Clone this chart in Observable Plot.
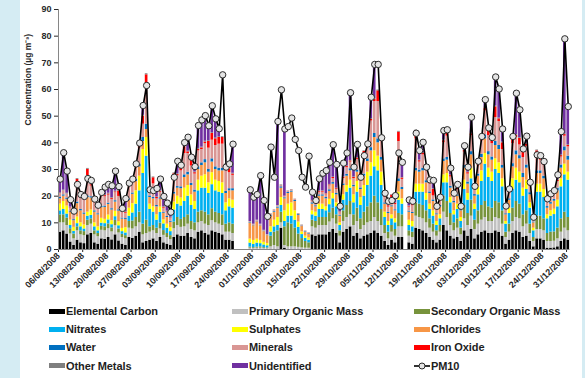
<!DOCTYPE html>
<html>
<head>
<meta charset="utf-8">
<script src="https://cdn.jsdelivr.net/npm/d3@7"></script>
<script src="https://cdn.jsdelivr.net/npm/@observablehq/plot@0.6"></script>
<style>
  html, body { margin: 0; padding: 0; }
  body { width: 585px; height: 378px; background: #d5ecf3; overflow: hidden; position: relative;
         font-family: "Liberation Sans", Arial, sans-serif; }
  #panel { position: absolute; left: 20px; top: 0; width: 562px; height: 378px; background: #fff; }
  #chart { position: absolute; left: 0; top: 0; }
  .item { position: absolute; height: 14px; line-height: 14px; font-size: 11px; font-weight: bold;
          color: #1e1e1e; white-space: nowrap; }
  .sw { position: absolute; left: 0; top: 4.5px; width: 16px; height: 5px; }
  .lab { position: absolute; left: 17px; top: 0; letter-spacing: -0.1px; }
</style>
</head>
<body>
<div id="panel"><div id="chart"></div><div id="legend"></div></div>
<script>
// Daily PM10 composition, 06/08/2008 – 31/12/2008 (µg m-3); null = no sample
const firstDay = "2008-08-06";
const dayCount = 148;

const seriesNames = ["Elemental Carbon", "Primary Organic Mass", "Secondary Organic Mass",
  "Nitrates", "Sulphates", "Chlorides", "Water", "Minerals", "Iron Oxide", "Other Metals", "Unidentified"];
const seriesColors = ["#000000", "#c0c0c0", "#77933c", "#00b0f0", "#ffff00", "#f79646",
  "#0070c0", "#d99694", "#ff0000", "#7f7f7f", "#7030a0"];

const tickLabels = ["06/08/2008", "13/08/2008", "20/08/2008", "27/08/2008", "03/09/2008", "10/09/2008",
  "17/09/2008", "24/09/2008", "01/10/2008", "08/10/2008", "15/10/2008", "22/10/2008", "29/10/2008",
  "05/11/2008", "12/11/2008", "19/11/2008", "26/11/2008", "03/12/2008", "10/12/2008", "17/12/2008",
  "24/12/2008", "31/12/2008"];
const yTicks = [0, 10, 20, 30, 40, 50, 60, 70, 80, 90];
const yTitle = "Concentration (µg m⁻³)";

const pm10 = [
  26.4, 36.3, 29.4, 18.7, 14.4, 24.4, 20.6, 19.9, 26.6, 25.9,
  18.9, 16.6, 21.4, 23.4, 24.4, 23.9, 29.4, 23.6, 15.4, 19.1,
  24.9, 26.4, 32.1, 39.9, 54.0, 61.5, 22.4, 22.1, 22.9, 26.4,
  19.9, 17.4, 14.0, 27.1, 33.1, 31.6, 40.1, 42.1, 34.6, 31.1,
  46.5, 48.6, 50.2, 46.4, 53.9, 49.0, 45.3, 65.5, 30.9, 32.1,
  39.5, null, null, null, null, 22.4, 19.6, 20.6, 27.7, 18.4,
  12.4, 38.4, 27.1, 48.0, 59.9, 45.2, 46.1, 49.3, 41.3, 37.1,
  27.1, 23.4, 35.0, 21.5, 18.4, 26.5, 28.6, 29.6, 32.7, 39.3,
  31.9, 16.2, 32.4, 36.2, 58.8, 30.9, 39.4, 27.1, 35.2, 39.6,
  57.1, 69.4, 69.4, 41.9, 21.1, 18.1, 18.4, 20.2, 36.2, 32.7,
  null, 18.6, 18.1, 43.6, 37.1, 40.2, 30.9, 26.1, 25.9, 16.2,
  19.6, 44.6, 44.9, 30.5, 21.1, 24.4, 16.2, 38.9, 30.9, 49.6,
  23.7, 33.1, 42.4, 56.2, 45.6, 42.0, 64.7, 60.2, 45.2, 16.3,
  22.7, 42.4, 58.6, 52.4, 37.7, 42.5, 25.2, 12.1, 35.5, 35.2,
  33.0, 19.0, 20.9, 22.1, 28.0, 44.2, 79.0, 53.6];

const elementalCarbon = [
  6.5, 7, 5.8, 2.8, 1.5, 3.5, 2.5, 2.2, 5.5, 6,
  2.5, 2, 4, 3.8, 4.5, 3.6, 5.5, 3.2, 2, 1.5,
  4.5, 4.2, 5, 6.5, 2.5, 3, 3.5, 4, 3, 4.5,
  2.5, 2, 1.5, 4.5, 5.5, 5, 5, 6, 4.5, 4,
  6.5, 7, 6, 5.5, 7, 6.5, 6, 5.5, 3.5, 3.5,
  3, null, null, null, null, 0, 0, 0, 0, 0,
  0, 0, 0, 0, 8, 0.5, 0, 0, 0, 0,
  0, 0, 0, 5.5, 5, 5.5, 5.5, 5.5, 6.5, 7.5,
  6, 2.5, 6.5, 7.5, 8.5, 5, 6, 4, 5, 5.5,
  6, 7, 6, 5, 3, 1.5, 3.5, 2.5, 4.5, 4.5,
  null, 2.5, 2, 8, 7.5, 7, 6, 4.5, 3.5, 2.5,
  3.5, 9, 7, 5, 4, 4.5, 3, 7, 5, 7.5,
  4, 5.5, 6.5, 7, 6, 6, 7, 6.5, 5, 2,
  3.5, 6, 7, 6.5, 4.5, 5, 3, 1, 4, 4,
  3.5, 0.5, 0.5, 0.6, 1, 3, 4, 3.5];

const primaryOrganic = [
  3.5, 3, 3.2, 3, 2.5, 3.5, 3, 3, 3.5, 3.5,
  3, 2.8, 3.2, 3.2, 3.3, 3, 3.4, 3, 2.5, 2.5,
  3.5, 3.5, 3.5, 3.5, 3, 3, 3, 3, 3, 3.2,
  2.8, 2.5, 2.2, 3.3, 3.5, 3.3, 3.5, 3.5, 3, 3,
  3.5, 3.5, 3.5, 3.5, 3.8, 3.5, 3.5, 3.5, 3, 3,
  3, null, null, null, null, 0.5, 0.4, 0.5, 0.5, 0.4,
  0.3, 1, 1.5, 1, 2, 1, 1, 1, 1, 0.8,
  0.6, 0.5, 0.5, 3, 3, 3.5, 3.5, 3.5, 3.8, 4,
  3.5, 2.5, 4, 4.5, 4.5, 4, 4.5, 3.5, 4, 4.5,
  4.5, 5, 4.5, 4, 3, 2.5, 3, 2.5, 4, 4,
  null, 2.5, 2.5, 4.5, 4.5, 4.5, 4, 3.5, 3, 2.5,
  3, 5, 5, 4, 3, 3.5, 2.5, 4.5, 4, 5,
  3.5, 4, 4.5, 5, 4.5, 4.5, 5, 5, 4.5, 2.5,
  3, 4.5, 5, 5, 4, 4.5, 3, 2, 3.5, 3.5,
  3.5, 2.5, 2.5, 2.5, 3, 3.5, 4, 3.5];

const secondaryOrganic = [
  3, 3, 2.8, 2, 1.8, 1.5, 1.5, 1.5, 2, 2,
  1.5, 1.2, 1.5, 1.5, 1.8, 1.5, 2, 1.5, 1.2, 1.2,
  2.5, 3, 3.5, 4, 4, 5, 2, 2, 2, 2.2,
  1.8, 1.5, 1.5, 2.5, 3, 3, 3.5, 3.5, 3, 3,
  4, 4, 4.5, 4, 4.5, 4, 4, 4, 3, 3.5,
  3.5, null, null, null, null, 0.4, 0.3, 0.4, 0.5, 0.3,
  0.3, 4, 5, 6, 4, 7, 9, 8.5, 7, 5,
  3.5, 2.5, 2, 2.5, 2.5, 3, 3, 3, 3.5, 4,
  3.5, 2, 4, 4.5, 5, 4, 5, 4, 5, 6,
  7, 8, 7, 6, 3, 2.5, 2.5, 2.5, 5, 4.5,
  null, 2, 2, 5, 5, 5, 4.5, 3.5, 3, 2,
  2.5, 6, 6, 4.5, 3, 3.5, 2.5, 5, 4.5, 6,
  3.5, 5, 5.5, 6, 5.5, 5, 6, 6, 5, 2,
  3, 5, 6, 5.5, 4.5, 5, 3.5, 1.5, 5, 5,
  4.5, 3, 3.5, 3.5, 4, 5, 6, 5];

const nitrates = [
  1.5, 2, 1.5, 1.2, 1, 1.2, 1.5, 1, 1.5, 1.3,
  1.5, 1, 1.2, 1.2, 1.5, 1.2, 1.4, 1.2, 1, 1,
  2, 3, 5, 8, 19, 24, 6.5, 5, 3, 4,
  2.5, 2, 1.5, 4.5, 5, 5, 6, 7, 6, 5,
  8, 8.5, 9, 8, 9, 8, 8, 8, 5, 6,
  6, null, null, null, null, 1.5, 1.2, 1.5, 1.2, 1,
  0.8, 1.5, 2, 2, 2.5, 2, 2.5, 3, 3, 2.5,
  1.5, 1.2, 1, 2, 2, 3, 3, 2.5, 3, 3.5,
  3, 2, 4, 5, 5, 4.5, 6, 5, 6, 8,
  10, 11, 12, 9, 3, 2.5, 2.5, 2.5, 5, 4,
  null, 2, 2, 4, 4.5, 5, 4, 3.5, 3, 2,
  2.5, 5, 7, 4, 3, 3.5, 2.5, 6, 5, 8,
  4, 6, 9, 14, 11, 10, 12, 11, 9, 3,
  4, 7, 8, 8, 7, 8, 6, 2.5, 9, 9,
  8, 5.5, 6, 6.5, 8, 12, 14, 14];

const sulphates = [
  2.5, 3, 3, 2, 1.5, 2.5, 1.5, 1.5, 1.5, 2,
  1.5, 1.5, 1.8, 1.6, 1.8, 1.5, 2, 1.5, 1.2, 2,
  3, 3.5, 5, 5.5, 9, 7, 2, 2, 2, 2,
  1.5, 1.5, 1.5, 3, 3, 3, 5, 4, 4, 3,
  4, 4.5, 5, 4, 4.5, 4, 4, 4, 3, 3,
  3, null, null, null, null, 1.5, 1.5, 1.5, 1.2, 1,
  0.8, 2, 2.5, 3, 3, 4, 4.5, 5, 3.5, 2,
  1, 0.8, 0.8, 1.5, 1.5, 2, 2, 1.5, 2, 2,
  1.5, 1, 2, 2.5, 3, 3, 4, 3, 4, 5,
  5, 6, 5.5, 5, 2, 1.5, 1.5, 1.5, 3, 2,
  null, 2, 2, 3, 3, 3, 2.5, 2, 2, 1.5,
  1.5, 3, 3.5, 2, 1.5, 2, 1.5, 3.5, 2.5, 4,
  2, 3, 4, 4, 3.5, 3.5, 4, 4, 3, 1,
  2, 4, 4.5, 4, 3, 3.5, 2, 1, 3, 3,
  3, 1.5, 2, 2, 2.5, 3, 4, 3];

const chlorides = [
  2, 2, 2.5, 3, 2.5, 5, 4.5, 4, 5.5, 4.5,
  4, 4.5, 4, 4.5, 4, 4, 3.5, 4, 3.5, 3,
  3, 3.5, 3.5, 3.5, 3, 3, 2.5, 3, 3, 3,
  2.5, 2.5, 2, 3, 3, 3.5, 4, 4, 3.5, 3.5,
  4, 4, 4.5, 4, 4, 4, 4, 4.5, 3.5, 3,
  3.5, null, null, null, null, 6, 5.5, 6.5, 5.5, 4,
  3, 4, 3, 3.5, 3.5, 4.5, 4, 4, 3.5, 2.5,
  2, 1.5, 1.5, 2.5, 2, 3, 3, 3, 3, 3.5,
  3, 2.5, 3.5, 3.5, 3.5, 3, 3.5, 3, 3.5, 4,
  4.5, 5, 5, 4.5, 3, 3, 3, 3, 4, 3.5,
  null, 3, 3, 5, 4.5, 5, 4, 4, 3.5, 2.5,
  3, 5, 5, 3.5, 3, 3, 2.5, 4.5, 3.5, 5,
  3, 4, 5, 5.5, 5, 4.5, 5, 5, 4, 2.5,
  3, 4.5, 5, 5, 4, 4.5, 3, 2, 4, 4,
  4, 2.5, 2.5, 3, 3.5, 4, 5, 4.5];

const water = [
  0.5, 0.5, 0.5, 0.4, 0.4, 0.6, 0.5, 0.5, 0.6, 0.5,
  0.5, 0.4, 0.5, 0.5, 0.5, 0.5, 0.5, 0.5, 0.4, 0.4,
  0.5, 0.5, 0.8, 1, 1.5, 2, 0.6, 0.6, 0.5, 0.5,
  0.4, 0.4, 0.4, 0.6, 0.6, 0.7, 1, 1, 0.8, 0.8,
  1, 1, 1.2, 1, 1.2, 1, 1, 1, 0.8, 0.8,
  0.8, null, null, null, null, 0.2, 0.2, 0.2, 0.2, 0.2,
  0.1, 0.3, 0.3, 0.4, 0.5, 0.4, 0.4, 0.4, 0.4, 0.3,
  0.2, 0.2, 0.2, 0.5, 0.4, 0.5, 0.5, 0.5, 0.6, 0.6,
  0.5, 0.3, 0.6, 0.7, 0.8, 0.6, 0.8, 0.6, 0.8, 1,
  1.2, 1.5, 1.5, 1, 0.5, 0.4, 0.4, 0.4, 1, 0.8,
  null, 0.4, 0.4, 1, 0.8, 1, 0.8, 0.6, 0.6, 0.4,
  0.5, 1, 1, 0.7, 0.5, 0.5, 0.4, 1, 0.8, 1.2,
  0.6, 0.8, 1.2, 1.5, 1.2, 1.2, 1.5, 1.5, 1, 0.4,
  0.5, 1.2, 1.5, 1.2, 1.5, 1.2, 0.8, 0.3, 1, 1,
  1, 0.6, 0.6, 0.7, 1, 1.2, 1.5, 1.5];

const minerals = [
  1.5, 1.5, 1.5, 1, 2, 6.5, 5.5, 5, 7.5, 4,
  3.5, 2.5, 4, 3.5, 3, 3.5, 3, 5, 2.5, 2,
  5, 4, 5, 6, 5, 14, 2, 5, 2.5, 2,
  1.5, 1.5, 1, 5, 4, 6, 8, 7, 6.5, 6,
  6, 5, 6, 8, 7, 8, 9, 9, 8, 6,
  5, null, null, null, null, 0.3, 0.3, 0.3, 0.3, 0.2,
  0.2, 0.5, 0.5, 0.5, 0.5, 0.5, 0.5, 0.5, 0.4, 0.3,
  0.3, 0.2, 0.2, 0.5, 0.5, 1, 1, 1, 1.5, 1.5,
  1.5, 1, 2, 2.5, 2.5, 2.5, 4, 4, 6, 5,
  10, 12, 14, 6, 2, 2, 2.5, 2, 14, 3,
  null, 1.5, 2.5, 11, 3, 5, 4, 3, 1.5, 1.5,
  2, 6, 8, 3.5, 2, 2, 1, 5, 3, 6,
  2, 3, 5, 9, 6, 5, 9, 9, 6, 1.5,
  2, 7.5, 5, 4, 6, 7, 2.5, 1, 5, 4,
  4, 2, 2, 2, 2.5, 3, 4, 3.5];

const ironOxide = [
  0, 0, 0, 0.2, 0.5, 2, 0.5, 0.4, 2.5, 0.5,
  0.4, 0.4, 1.8, 0.4, 0.4, 0.4, 0.3, 2, 1.2, 0.3,
  1.5, 0.4, 0.5, 0.6, 3, 4.5, 0.3, 2.3, 0.5, 0.3,
  0.3, 0.2, 0.2, 2, 0.5, 2.5, 2.5, 0.6, 2.5, 0.5,
  0.6, 0.6, 0.6, 2.5, 2.5, 2.5, 2.5, 2.5, 2, 1.5,
  0.5, null, null, null, null, 0, 0, 0, 0, 0,
  0, 0, 0, 0, 0, 0, 0, 0, 0, 0,
  0, 0, 0, 0.2, 0.2, 0.3, 0.3, 0.3, 0.3, 0.4,
  0.3, 0.2, 0.4, 0.4, 0.4, 0.4, 0.5, 1.5, 2.5, 0.5,
  0.6, 0.8, 4, 0.6, 0.4, 0.5, 1.5, 0.4, 3.5, 0.5,
  null, 0.3, 2, 3, 0.5, 0.6, 0.5, 0.5, 2.5, 0.4,
  0.5, 0.8, 3, 0.5, 1.5, 0.4, 0.3, 0.6, 0.5, 0.7,
  0.4, 0.5, 0.6, 1, 2.5, 1, 4, 1, 2.5, 0.3,
  0.4, 3, 0.8, 2.5, 2, 0.8, 0.5, 0.3, 2.5, 0.6,
  1.5, 0.4, 1.5, 0.4, 0.4, 0.5, 0.6, 0.5];

const otherMetals = [
  0.3, 0.3, 0.3, 0.3, 0.3, 0.3, 0.3, 0.3, 0.3, 0.3,
  0.3, 0.3, 0.3, 0.3, 0.3, 0.3, 0.3, 0.3, 0.3, 0.3,
  0.3, 0.3, 0.3, 0.3, 0.3, 0.4, 0.3, 0.3, 0.3, 0.3,
  0.3, 0.3, 0.3, 0.3, 0.3, 0.3, 0.3, 0.3, 0.3, 0.3,
  0.3, 0.3, 0.3, 0.3, 0.3, 0.3, 0.3, 0.3, 0.3, 0.3,
  0.3, null, null, null, null, 0.1, 0.1, 0.1, 0.1, 0.1,
  0.1, 0.1, 0.1, 0.1, 0.2, 0.1, 0.1, 0.1, 0.1, 0.1,
  0.1, 0.1, 0.1, 0.2, 0.2, 0.2, 0.2, 0.2, 0.2, 0.2,
  0.2, 0.2, 0.2, 0.2, 0.2, 0.2, 0.2, 0.2, 0.2, 0.2,
  0.3, 0.3, 0.3, 0.2, 0.2, 0.2, 0.2, 0.2, 0.3, 0.2,
  null, 0.2, 0.2, 0.3, 0.2, 0.2, 0.2, 0.2, 0.2, 0.2,
  0.2, 0.3, 0.3, 0.2, 0.2, 0.2, 0.2, 0.3, 0.2, 0.3,
  0.2, 0.2, 0.3, 0.3, 0.3, 0.3, 0.3, 0.3, 0.3, 0.2,
  0.2, 0.3, 0.3, 0.3, 0.3, 0.3, 0.2, 0.2, 0.3, 0.3,
  0.3, 0.2, 0.2, 0.2, 0.2, 0.3, 0.3, 0.3];

const unidentified = [
  5.1, 14.0, 8.3, 2.8, 0.4, 0, 0, 0.5, 0, 1.3,
  0.2, 0, 0, 2.9, 3.3, 4.4, 7.5, 1.4, 0, 4.9,
  0, 0.5, 0, 1.0, 3.7, 0, 0, 0, 3.1, 4.4,
  3.8, 3.0, 1.9, 0, 4.7, 0, 1.3, 5.2, 0.5, 2.0,
  8.6, 10.2, 9.6, 5.6, 10.1, 7.2, 3.0, 0, 0, 1.5,
  10.9, null, null, null, null, 11.9, 10.1, 9.6, 18.2, 11.2,
  6.8, 0, 0, 31.5, 0, 25.2, 0, 0, 0, 0,
  0, 0, 0, 2.6, 1.1, 4.5, 6.6, 8.6, 8.3, 12.1,
  8.9, 2.0, 5.2, 4.9, 25.4, 3.7, 4.9, 0, 0, 0,
  8.0, 12.8, 0, 0.6, 1.0, 1.5, 0, 2.7, 0, 5.7,
  null, 2.2, 0, 0, 3.6, 3.9, 0.4, 0.8, 3.1, 0.7,
  0.4, 3.5, 0, 2.6, 0, 1.3, 0, 1.5, 1.9, 5.9,
  0.5, 1.1, 0.8, 2.9, 0.1, 1.0, 10.9, 10.9, 4.9, 0.9,
  1.1, 0, 15.5, 10.4, 0.9, 2.7, 0.7, 0.3, 0, 0.8,
  0, 0.3, 0, 0.7, 1.9, 8.7, 35.6, 14.3];

const seriesValues = [elementalCarbon, primaryOrganic, secondaryOrganic, nitrates, sulphates,
  chlorides, water, minerals, ironOxide, otherMetals, unidentified];

// Build tidy rows: one rect per day and component, stacked in legend order
const start = new Date(firstDay + "T00:00:00Z");
const end = d3.utcDay.offset(start, dayCount);
const days = d3.range(dayCount).map(i => d3.utcDay.offset(start, i));

const rows = [];
days.forEach((date, i) => {
  seriesNames.forEach((name, s) => {
    const v = seriesValues[s][i];
    if (v != null && v > 0) rows.push({date, next: d3.utcDay.offset(date, 1), series: name, value: v});
  });
});
const pmRows = days.map((date, i) => ({mid: d3.utcHour.offset(date, 12), pm10: pm10[i]}));

const parseLabel = d3.utcParse("%d/%m/%Y");
const tickDates = tickLabels.map(parseLabel);
const labelByTime = new Map(tickDates.map((d, i) => [+d, tickLabels[i]]));

const chart = Plot.plot({
  width: 562,
  height: 300,
  marginLeft: 38,
  marginRight: 12.5,
  marginTop: 9,
  marginBottom: 51,
  style: {background: "transparent", fontFamily: "'Liberation Sans', Arial, sans-serif",
          fontSize: "9px", fontWeight: "bold", color: "#2a2a2a"},
  x: {type: "utc", domain: [start, end], ticks: tickDates, tickFormat: d => labelByTime.get(+d),
      tickRotate: -45, tickSize: 3, tickPadding: 2, label: null},
  y: {domain: [0, 90], ticks: yTicks, tickSize: 4, tickPadding: 3, label: null},
  color: {domain: seriesNames, range: seriesColors},
  marks: [
    Plot.rectY(rows, {x1: "date", x2: "next", y: "value", fill: "series", insetLeft: 0.4, insetRight: 0.4}),
    Plot.ruleY([0], {stroke: "#868686"}),
    Plot.ruleX([start], {stroke: "#868686"}),
    Plot.line(pmRows, {x: "mid", y: "pm10", stroke: "#000", strokeWidth: 1.6}),
    Plot.dot(pmRows.filter(d => d.pm10 != null), {x: "mid", y: "pm10", r: 3.2,
      fill: "#e4e4e4", stroke: "#2a2a2a", strokeWidth: 1}),
    Plot.text([yTitle], {frameAnchor: "left", dx: -30, dy: -4, rotate: -90, fontSize: 8.5,
      fontWeight: "bold", fill: "#2a2a2a"})
  ]
});
document.getElementById("chart").appendChild(chart);

// Legend: 4 rows x 3 columns, in panel coordinates
const legendNames = [...seriesNames, "PM10"];
const rowY = [311, 329, 347.3, 365.7];
const colX = [29, 212, 394];
const legend = document.getElementById("legend");
legendNames.forEach((name, i) => {
  const item = document.createElement("div");
  item.className = "item";
  item.style.left = colX[i % 3] + "px";
  item.style.top = (rowY[Math.floor(i / 3)] - 7) + "px";
  if (i < seriesNames.length) {
    const sw = document.createElement("div");
    sw.className = "sw";
    sw.style.background = seriesColors[i];
    item.appendChild(sw);
  } else {
    const ns = "http://www.w3.org/2000/svg";
    const svg = document.createElementNS(ns, "svg");
    svg.setAttribute("width", 17); svg.setAttribute("height", 14);
    svg.style.position = "absolute"; svg.style.left = "0"; svg.style.top = "0";
    const ln = document.createElementNS(ns, "line");
    ln.setAttribute("x1", 0); ln.setAttribute("x2", 16); ln.setAttribute("y1", 7); ln.setAttribute("y2", 7);
    ln.setAttribute("stroke", "#000"); ln.setAttribute("stroke-width", 1.6);
    const c = document.createElementNS(ns, "circle");
    c.setAttribute("cx", 8); c.setAttribute("cy", 7); c.setAttribute("r", 3);
    c.setAttribute("fill", "#e4e4e4"); c.setAttribute("stroke", "#2a2a2a");
    svg.appendChild(ln); svg.appendChild(c);
    item.appendChild(svg);
  }
  const lab = document.createElement("span");
  lab.className = "lab";
  lab.textContent = name;
  item.appendChild(lab);
  legend.appendChild(item);
});
</script>
</body>
</html>
